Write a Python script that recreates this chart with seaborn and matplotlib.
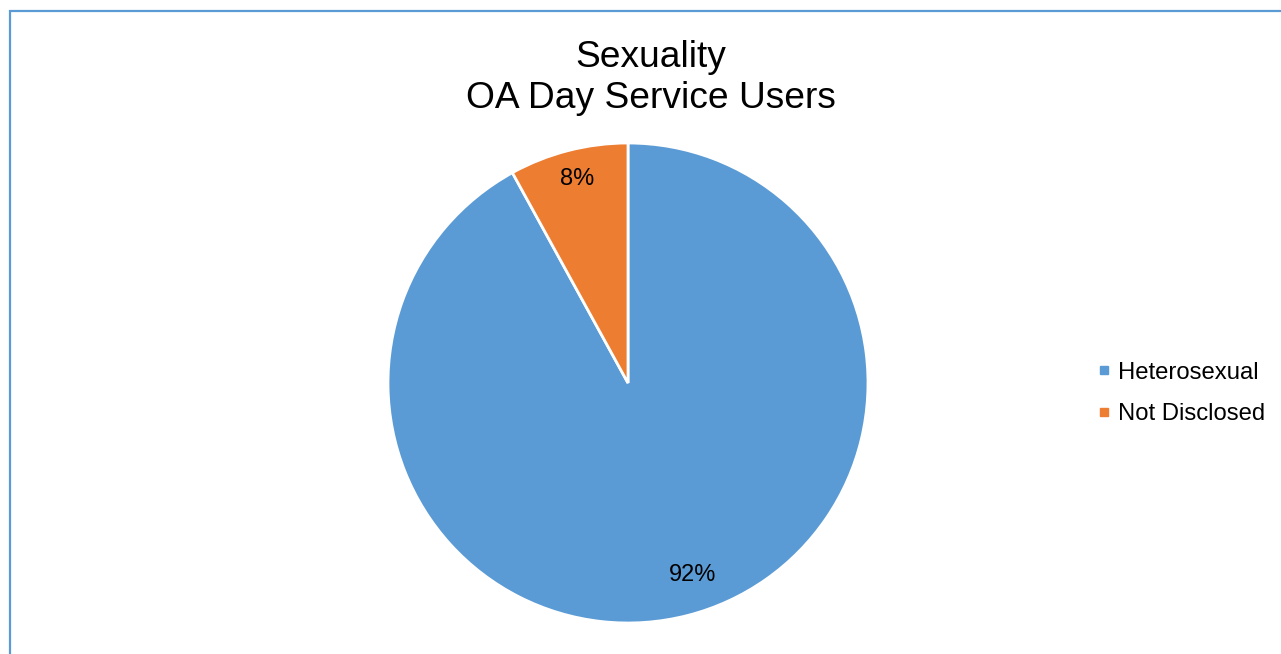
"""
Pie chart: sexuality of OA day service users.

Writes: out.png
"""

import numpy as np
import matplotlib.pyplot as plt
from matplotlib.lines import Line2D
from matplotlib.patches import Rectangle
import seaborn as sns

categories = ["Heterosexual", "Not Disclosed"]
shares = [92, 8]
slice_colors = ["#5B9BD5", "#ED7D31"]
title_lines = ["Sexuality", "OA Day Service Users"]

# label placement (style only): radius as fraction of pie radius, angle nudge in degrees
label_radius = [0.845, 0.875]
label_nudge = [4.2, -0.5]

sns.set_theme(style="white")
plt.rcParams["font.family"] = ["Liberation Sans", "DejaVu Sans"]
plt.rcParams["text.color"] = "black"


def main() -> None:
    W, H = 1281, 654
    fig = plt.figure(figsize=(W / 100, H / 100), dpi=100)
    fig.patch.set_facecolor("white")

    # pie axes: centre (628, 383) px, radius 240 px
    cx, cy, r = 628, 383, 240
    ax = fig.add_axes([(cx - r) / W, (H - cy - r) / H, 2 * r / W, 2 * r / H])
    palette = sns.color_palette(slice_colors)
    wedges, _, pct = ax.pie(
        shares, colors=palette, startangle=90, counterclock=False,
        autopct="%1.0f%%", pctdistance=0.86,
        wedgeprops={"edgecolor": "white", "linewidth": 2.0},
        textprops={"fontsize": 17, "color": "black"},
    )
    for w, t, rad, nudge in zip(wedges, pct, label_radius, label_nudge):
        ang = np.deg2rad((w.theta1 + w.theta2) / 2 + nudge)
        t.set_position((rad * np.cos(ang), rad * np.sin(ang)))
    ax.set_aspect("equal")
    ax.set_xlim(-1, 1)
    ax.set_ylim(-1, 1)
    ax.axis("off")

    fig.text(651 / W, 1 - 78 / H, "\n".join(title_lines), ha="center",
             va="center", fontsize=26.7, linespacing=1.24, color="black")

    handles = [Line2D([], [], marker="s", linestyle="none", markersize=6,
                      markerfacecolor=c, markeredgecolor=c) for c in palette]
    leg = fig.legend(handles, categories, loc="center left",
                     bbox_to_anchor=(1097 / W, 1 - 393.5 / H), frameon=False,
                     fontsize=17.2, handlelength=0.6, handletextpad=0.3,
                     labelspacing=0.83, borderaxespad=0, borderpad=0)
    for t in leg.get_texts():
        t.set_color("black")

    # chart frame: only the top and left edges fall inside the image
    fig.patches.append(Rectangle((9.5 / W, -0.2), 1.2, 1.2 - 10.5 / H,
                                 transform=fig.transFigure, fill=False,
                                 edgecolor="#5B9BD5", linewidth=1.6))

    fig.savefig("out.png", dpi=100)


if __name__ == "__main__":
    main()
